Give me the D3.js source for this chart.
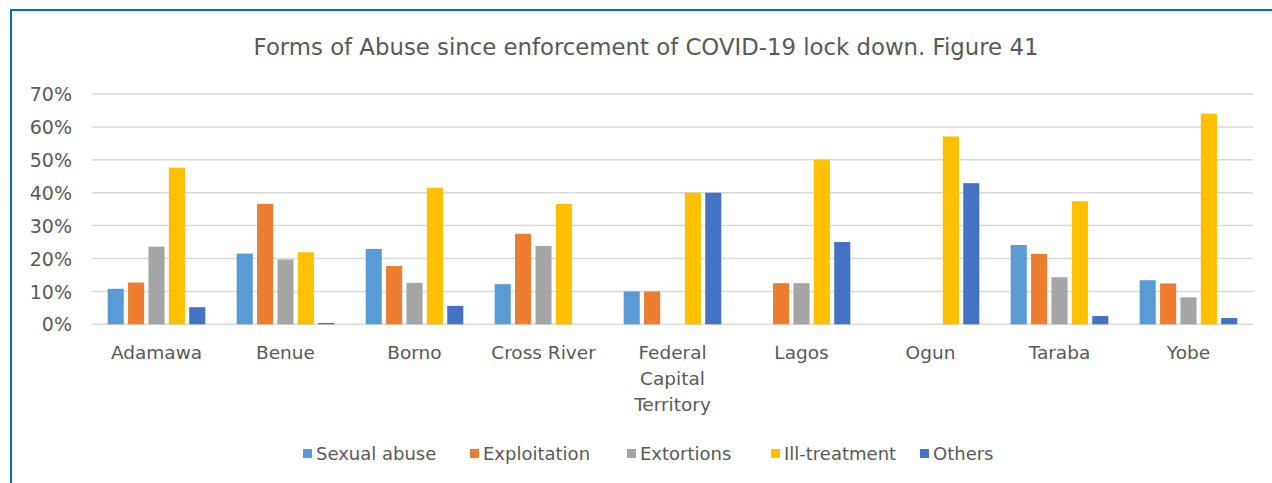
<!DOCTYPE html>
<html><head><meta charset="utf-8">
<script src="https://cdn.jsdelivr.net/npm/d3@7"></script>
<style>html,body{margin:0;padding:0;background:#fff;}svg{display:block;}</style>
</head><body>
<script>
const categories = [["Adamawa"],["Benue"],["Borno"],["Cross River"],["Federal","Capital","Territory"],["Lagos"],["Ogun"],["Taraba"],["Yobe"]];
const seriesNames = ["Sexual abuse","Exploitation","Extortions","Ill-treatment","Others"];
const sexualAbuse  = [10.8, 21.5, 22.9, 12.2, 10.0, 0,    0,    24.1, 13.4];
const exploitation = [12.7, 36.6, 17.7, 27.5, 10.0, 12.5, 0,    21.4, 12.4];
const extortions   = [23.6, 19.7, 12.6, 23.8, 0,    12.5, 0,    14.3, 8.2];
const illTreatment = [47.6, 21.9, 41.5, 36.6, 40.0, 50.0, 57.1, 37.4, 64.0];
const others       = [5.2,  0.4,  5.6,  0,    40.0, 25.0, 42.9, 2.5,  1.9];
const yTicks = [0,10,20,30,40,50,60,70];
const colors = ["#5b9bd5","#ed7d31","#a5a5a5","#ffc000","#4472c4"];
const seriesValues = [sexualAbuse, exploitation, extortions, illTreatment, others];

const W = 1272, H = 483;
const svg = d3.select("body").append("svg").attr("width", W).attr("height", H);
const font = "DejaVu Sans, Verdana, sans-serif";
const txt = "#595959";

svg.append("rect").attr("x",11).attr("y",10).attr("width",1400).attr("height",600)
  .attr("fill","none").attr("stroke","#0070c0").attr("stroke-width",2);

svg.append("text").attr("x",646).attr("y",55).attr("text-anchor","middle")
  .attr("font-family",font).attr("font-size",22.8).attr("fill",txt)
  .text("Forms of Abuse since enforcement of COVID-19 lock down. Figure 41");

const x0 = d3.scaleBand().domain(d3.range(categories.length)).range([92, 1253]).paddingInner(0.243).paddingOuter(0.1215);
const x1 = d3.scaleBand().domain(d3.range(seriesNames.length)).range([0, x0.bandwidth()]).paddingInner(0.21);
const y = d3.scaleLinear().domain([0,70]).range([324.3, 94]);

const grid = svg.append("g");
grid.selectAll("line").data(yTicks).join("line")
  .attr("x1",92).attr("x2",1253).attr("y1",d=>y(d)).attr("y2",d=>y(d))
  .attr("stroke","#d9d9d9").attr("stroke-width",1.5);

const yAxis = svg.append("g").attr("transform","translate(78,0)")
  .call(d3.axisLeft(y).tickValues(yTicks).tickFormat(d=>d+"%").tickSize(0).tickPadding(6));
yAxis.select(".domain").remove();
yAxis.selectAll("text").attr("font-family",font).attr("font-size",19).attr("fill",txt).attr("dy","0.35em");

const groups = svg.append("g").selectAll("g").data(categories).join("g")
  .attr("transform",(d,i)=>`translate(${x0(i)},0)`);
groups.selectAll("rect").data((d,i)=>seriesValues.map((s,k)=>({k, v:s[i]}))).join("rect")
  .attr("x",d=>x1(d.k)).attr("width",x1.bandwidth())
  .attr("y",d=>y(d.v)).attr("height",d=>y(0)-y(d.v))
  .attr("fill",d=>colors[d.k]);

svg.append("g").selectAll("text").data(categories).join("text")
  .attr("x",(d,i)=>x0(i)+x0.bandwidth()/2).attr("y",359).attr("text-anchor","middle")
  .attr("font-family",font).attr("font-size",18.5).attr("fill",txt)
  .each(function(d){
    d3.select(this).selectAll("tspan").data(d).join("tspan")
      .attr("x",d3.select(this).attr("x")).attr("dy",(t,j)=>j?26:0).text(t=>t);
  });

const legendX = [303, 470, 627, 771, 920];
const lg = svg.append("g").selectAll("g").data(seriesNames).join("g")
  .attr("transform",(d,i)=>`translate(${legendX[i]},454)`);
lg.append("rect").attr("x",0).attr("y",-5).attr("width",9).attr("height",9).attr("fill",(d,i)=>colors[i]);
lg.append("text").attr("x",13).attr("y",0).attr("dy","0.35em")
  .attr("font-family",font).attr("font-size",18).attr("fill",txt).text(d=>d);
</script>
</body></html>
